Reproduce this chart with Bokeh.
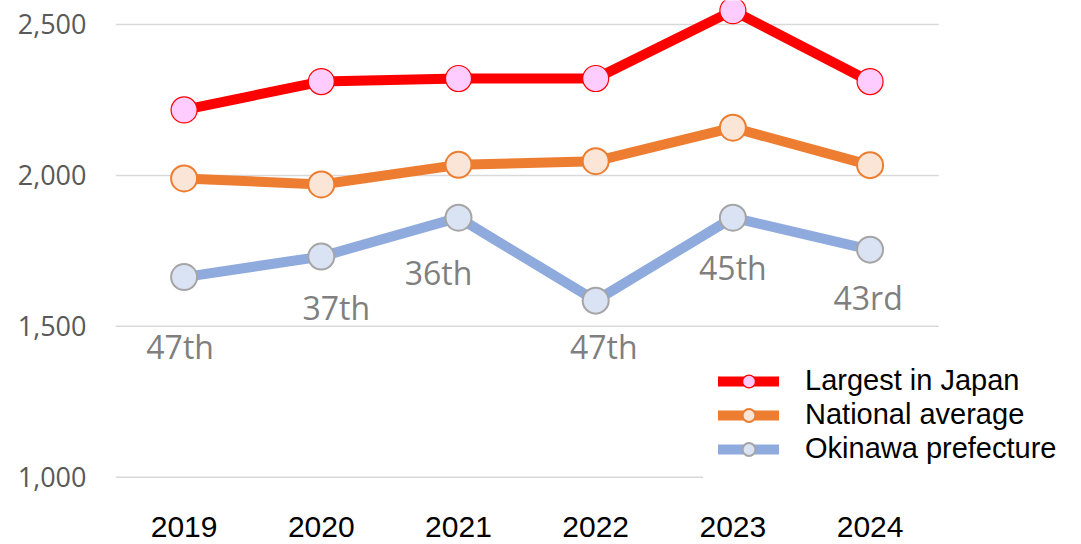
from bokeh.plotting import figure
from bokeh.models import Range1d, FixedTicker, NumeralTickFormatter, Legend, LegendItem, ColumnDataSource
from bokeh.embed import file_html
from bokeh.resources import INLINE
from bokeh.core.properties import value

# ---- data ----
years = ["2019", "2020", "2021", "2022", "2023", "2024"]
largest = [2217, 2311, 2321, 2321, 2546, 2311]
national = [1990, 1970, 2035, 2047, 2158, 2034]
okinawa = [1663, 1731, 1860, 1585, 1860, 1754]
ranks = ["47th", "37th", "36th", "47th", "45th", "43rd"]
y_ticks = [1000, 1500, 2000, 2500]
series_names = ["Largest in Japan", "National average", "Okinawa prefecture"]

# ---- styles / label placement (pixels) ----
rank_dx = [-4, 15, -20, 8, 0, -2]
rank_dy = [69, 51, 55, 46, 50, 48]

xs = list(range(len(years)))

p = figure(width=1081, height=544, output_backend="svg", toolbar_location=None,
           x_range=Range1d(-0.5, 6.541), y_range=Range1d(909.5, 2579.5),
           min_border_left=115, min_border_right=0, min_border_top=0, min_border_bottom=40)
p.outline_line_color = None
p.xgrid.visible = False
p.ygrid.visible = False

# horizontal gridlines spanning the category area only
p.segment(x0=-0.5, x1=len(years) - 0.5, y0=y_ticks, y1=y_ticks,
          line_color="#d9d9d9", line_width=1.5)

styles = [
    dict(line="#ff0000", fill="#ffccff", edge="#ff0000", ew=1.2),
    dict(line="#ed7d31", fill="#fbe5d6", edge="#ed7d31", ew=2),
    dict(line="#8faadc", fill="#dae3f3", edge="#a5a5a5", ew=2),
]
items = []
for vals, name, st in zip([largest, national, okinawa], series_names, styles):
    l = p.line(xs, vals, line_color=st["line"], line_width=10, line_cap="round", line_join="round")
    s = p.scatter(xs, vals, size=26, fill_color=st["fill"], line_color=st["edge"], line_width=st["ew"])
    items.append(LegendItem(label=name, renderers=[l, s]))

src = ColumnDataSource(dict(x=xs, y=okinawa, text=ranks, dx=rank_dx, dy=rank_dy))
p.text(x="x", y="y", text="text", x_offset="dx", y_offset="dy", source=src,
       text_font=value("Open Sans"), text_font_size="32px", text_color="#7f7f7f",
       text_align="center", text_baseline="middle")

legend = Legend(items=items, location=(588, 24), padding=14, margin=0, spacing=1,
                glyph_width=61, glyph_height=32, label_standoff=26,
                label_text_font="Liberation Sans", label_text_font_size="29px",
                label_text_color="#000000",
                background_fill_color="white", background_fill_alpha=1.0,
                border_line_color="white", border_line_width=1)
p.add_layout(legend)

p.xaxis.ticker = FixedTicker(ticks=xs)
p.xaxis.major_label_overrides = {i: y for i, y in zip(xs, years)}
p.yaxis.ticker = FixedTicker(ticks=y_ticks)
p.yaxis.formatter = NumeralTickFormatter(format="0,0")
for ax in (p.xaxis, p.yaxis):
    ax.axis_line_color = None
    ax.major_tick_line_color = None
    ax.minor_tick_line_color = None
    ax.major_tick_out = 0
    ax.major_tick_in = 0
    ax.minor_tick_out = 0
    ax.minor_tick_in = 0
p.xaxis.major_label_text_font = "Liberation Sans"
p.xaxis.major_label_text_font_size = "30px"
p.xaxis.major_label_text_color = "#000000"
p.xaxis.major_label_standoff = 12
p.yaxis.major_label_text_font = "Open Sans"
p.yaxis.major_label_text_font_size = "27px"
p.yaxis.major_label_text_color = "#595959"
p.yaxis.major_label_standoff = 29

open("out.html", "w").write(file_html(p, INLINE))
